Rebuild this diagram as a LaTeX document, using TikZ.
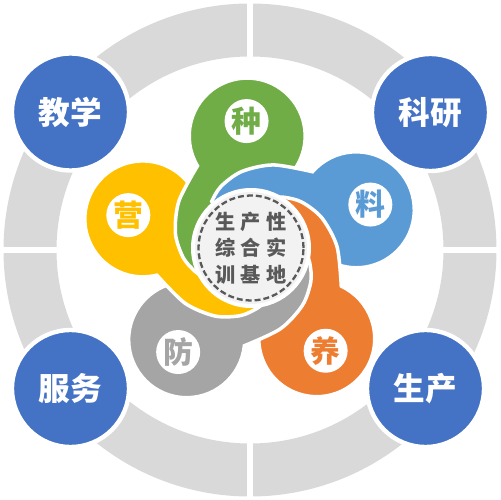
\documentclass[tikz,border=0pt]{standalone}
\usepackage{fontspec}
\newfontfamily\cjk{Noto Sans CJK SC}
\usepackage{tikz}

\definecolor{ringgray}{HTML}{D9D9D9}
\definecolor{roleblue}{HTML}{4472C4}
\definecolor{zhonggreen}{HTML}{70AD47}
\definecolor{liaoblue}{HTML}{5B9BD5}
\definecolor{yangorange}{HTML}{ED7D31}
\definecolor{fanggray}{HTML}{A5A5A5}
\definecolor{yingyellow}{HTML}{FFC000}
\definecolor{coregray}{HTML}{F2F2F2}
\definecolor{textgray}{HTML}{595959}

\tikzset{
  petalshape/.style={insert path={(0,0) -- plot[smooth] coordinates {(213:54) (201:60.5) (186:68.5) (167:77) (145:86) (121.1:98)} arc[start angle=209, end angle=-50, radius=58] -- cycle}},
  petalline/.style={draw=white, line width=2pt}
}

\begin{document}
\begin{tikzpicture}[x=0.02cm, y=0.02cm,
  role/.style={circle, fill=roleblue, draw=white, line width=2.5pt, minimum size=2.34cm, inner sep=0pt, text=white, font=\cjk\bfseries\fontsize{18}{18}\selectfont},
  petallabel/.style={circle, fill=white, minimum size=0.88cm, inner sep=0pt, font=\cjk\bfseries\fontsize{17}{17}\selectfont}]
\useasboundingbox (-250,-250) rectangle (250,250);

% outer ring
\fill[ringgray, even odd rule] (0,0) circle[radius=246.5] (0,0) circle[radius=193.5];
\foreach \a in {0,90,180,270}
  \draw[white, line width=3pt] (\a:188) -- (\a:252);

\node[role] (jiaoxue) at (-179.5,138) {教学};
\node[role] (keyan) at (180.5,137.5) {科研};
\node[role] (fuwu) at (-179.5,-138.5) {服务};
\node[role] (shengchan) at (175.5,-138.5) {生产};

% pinwheel
\begin{scope}[shift={(1,2)}]
\foreach \ang/\col in {92/zhonggreen, 20/liaoblue, -54/yangorange, -125/fanggray, 165/yingyellow}
  \path[rotate=\ang-90, petalshape, fill=\col, petalline];
% green tail back over the yellow lobe
\begin{scope}
  \clip (0,0) -- (132:75) -- (123:150) -- (170:185) -- (215:150) -- cycle;
  \path[rotate=2, petalshape, fill=zhonggreen, petalline];
\end{scope}
\fill[white] (0,0) circle[radius=60];
\fill[coregray] (0,0) circle[radius=56];
\draw[textgray, line width=1.3pt, dash pattern=on 3.4pt off 1.7pt] (0,0) circle[radius=52.5];
\node[text=textgray, align=center, font=\cjk\bfseries\fontsize{11.5}{15.1}\selectfont] (core) at (0,0)
  {生\hspace{3pt}产\hspace{3pt}性\\综\hspace{3pt}合\hspace{3pt}实\\训\hspace{3pt}基\hspace{3pt}地};
\foreach \ang/\col/\txt/\name in {92/zhonggreen/种/zhong, 20/liaoblue/料/liao, -54/yangorange/养/yang, -125/fanggray/防/fang, 165/yingyellow/营/ying}
  \node[petallabel, text=\col] (\name) at (\ang:127) {\txt};
\end{scope}
\end{tikzpicture}
\end{document}
